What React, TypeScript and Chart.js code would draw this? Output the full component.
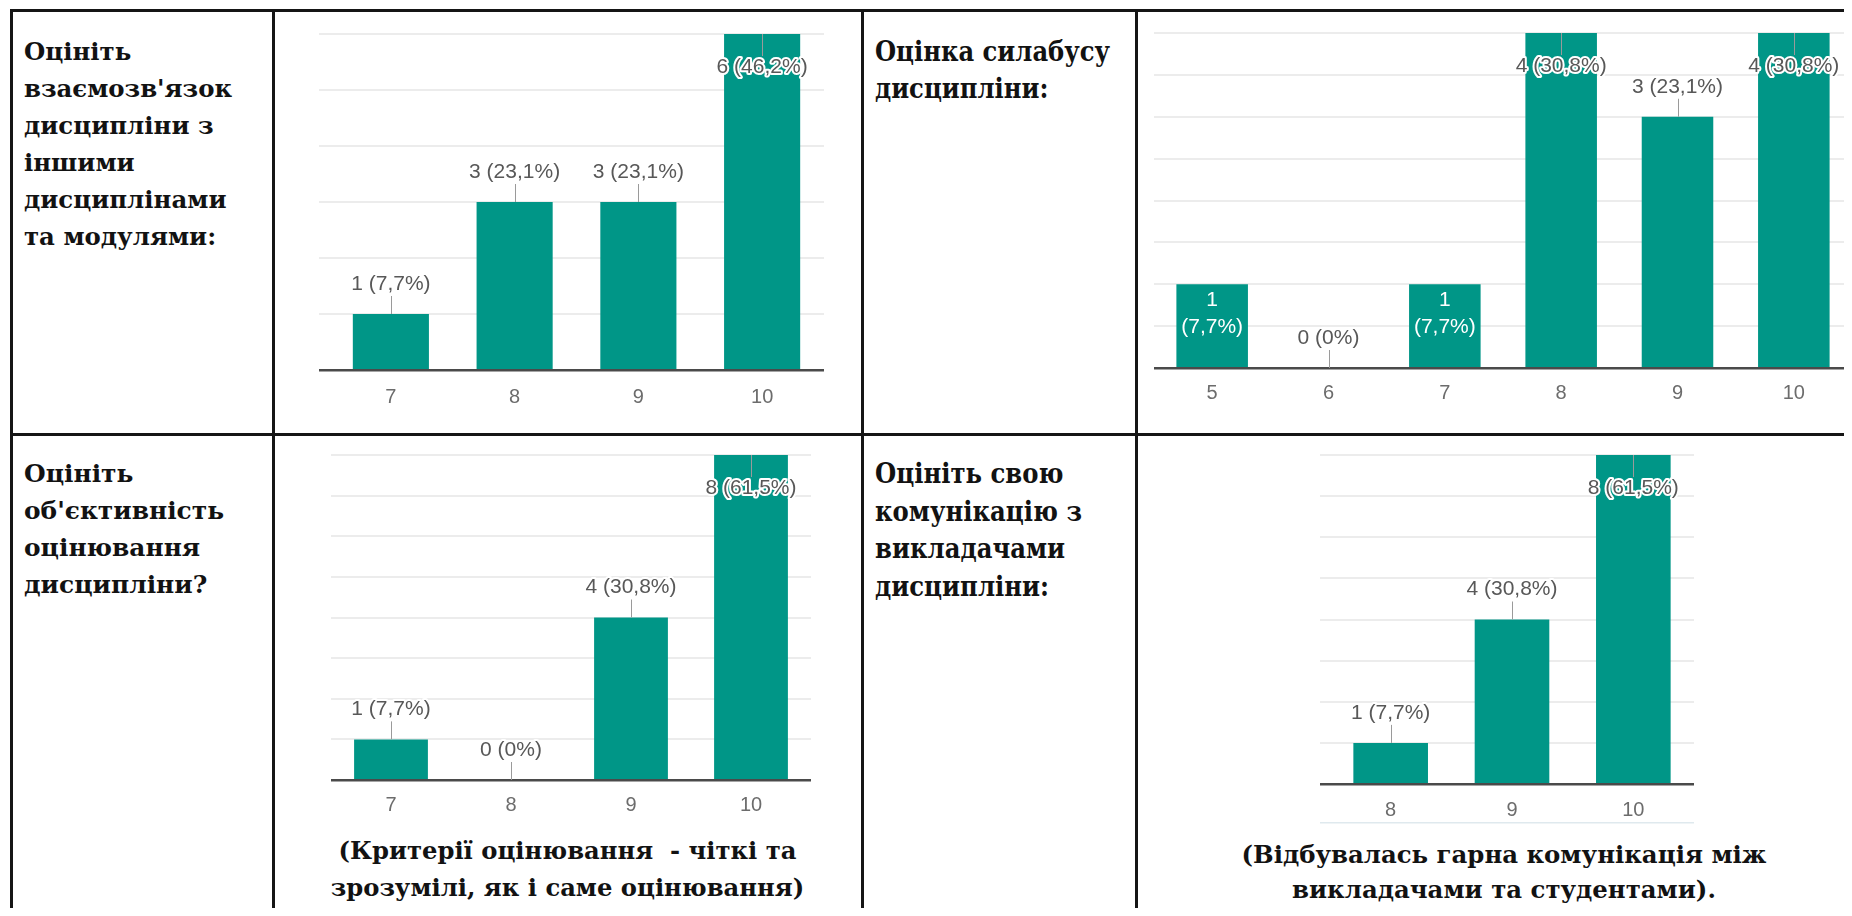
import React, { useEffect, useRef } from "react";
import { Chart, registerables } from "chart.js";

Chart.register(...registerables);

// ---------- data ----------
const RESPONDENTS = 13;

const LINKS_LABELS = ["7", "8", "9", "10"];
const LINKS_VALUES = [1, 3, 3, 6];
const LINKS_Y_MAX = 6;
const LINKS_Y_STEP = 1;

const SYLLABUS_LABELS = ["5", "6", "7", "8", "9", "10"];
const SYLLABUS_VALUES = [1, 0, 1, 4, 3, 4];
const SYLLABUS_Y_MAX = 4;
const SYLLABUS_Y_STEP = 0.5;

const OBJECTIVITY_LABELS = ["7", "8", "9", "10"];
const OBJECTIVITY_VALUES = [1, 0, 4, 8];
const OBJECTIVITY_Y_MAX = 8;
const OBJECTIVITY_Y_STEP = 1;

const COMMUNICATION_LABELS = ["8", "9", "10"];
const COMMUNICATION_VALUES = [1, 4, 8];
const COMMUNICATION_Y_MAX = 8;
const COMMUNICATION_Y_STEP = 1;

const Q_LINKS = ["Оцініть", "взаємозв'язок", "дисципліни з", "іншими", "дисциплінами", "та модулями:"];
const Q_SYLLABUS = ["Оцінка силабусу", "дисципліни:"];
const Q_OBJECTIVITY = ["Оцініть", "об'єктивність", "оцінювання", "дисципліни?"];
const Q_COMMUNICATION = ["Оцініть свою", "комунікацію з", "викладачами", "дисципліни:"];
const NOTE_OBJECTIVITY = ["(Критерії оцінювання  - чіткі та", "зрозумілі, як і саме оцінювання)"];
const NOTE_COMMUNICATION = ["(Відбувалась гарна комунікація між", "викладачами та студентами)."];

// ---------- styles ----------
const TEAL = "#009687";
const LABEL_FONT = "21px 'Liberation Sans', Arial, sans-serif";
const SERIF = "'DejaVu Serif', serif";
const SERIF_COND = "'DejaVu Serif Condensed', 'DejaVu Serif', serif";

type Spec = {
  left: number;
  top: number;
  width: number;
  height: number;
  padding: { left: number; right: number; top: number; bottom: number };
  axisHeight: number;
  tickPad: number;
  labels: string[];
  values: number[];
  yMax: number;
  yStep: number;
  wrapInside?: boolean;
  extendLeft?: number;
  footLine?: number;
};

function pctText(v: number, total: number) {
  if (v === 0) return "0%";
  return (Math.round((v / total) * 1000) / 10).toFixed(1).replace(".", ",") + "%";
}

const gridPlugin = {
  id: "formsGrid",
  beforeDatasetsDraw(chart: any, _a: any, opts: any) {
    const { ctx, chartArea } = chart;
    const y = chart.scales.y;
    const ext = opts.extendLeft || 0;
    ctx.save();
    ctx.fillStyle = "#ececec";
    y.ticks.forEach((t: any) => {
      if (t.value === 0) return;
      const py = Math.round(y.getPixelForValue(t.value));
      ctx.fillRect(chartArea.left - ext, py - 1, chartArea.right - chartArea.left + ext, 2);
    });
    ctx.restore();
  },
};

const labelPlugin = {
  id: "formsLabels",
  afterDatasetsDraw(chart: any, _a: any, opts: any) {
    const { ctx, chartArea } = chart;
    const ext = opts.extendLeft || 0;
    const values: number[] = chart.data.datasets[0].data;
    const total: number = opts.total;
    ctx.save();
    ctx.fillStyle = "#4a4a4a";
    ctx.fillRect(chartArea.left - ext, chartArea.bottom - 1, chartArea.right - chartArea.left + ext, 2.5);
    if (opts.footLine) {
      ctx.fillStyle = "#dfe9ee";
      ctx.fillRect(chartArea.left - ext, chartArea.bottom + opts.footLine, chartArea.right - chartArea.left + ext, 1.5);
    }
    ctx.font = LABEL_FONT;
    ctx.textAlign = "center";
    ctx.textBaseline = "middle";
    ctx.lineJoin = "round";
    const meta = chart.getDatasetMeta(0);
    meta.data.forEach((bar: any, i: number) => {
      const v = values[i];
      const p = bar.getProps(["x", "y", "base", "width"], true);
      const pct = pctText(v, total);
      const text = `${v} (${pct})`;
      const w = ctx.measureText(text).width;
      const h = p.base - p.y;
      if (opts.wrapInside && v > 0 && w > p.width && h >= 60 && h < 150) {
        ctx.fillStyle = "#ffffff";
        ctx.fillText(String(v), p.x, p.y + 16);
        ctx.fillText(`(${pct})`, p.x, p.y + 43);
        return;
      }
      let cy = p.y - 30;
      ctx.strokeStyle = "#9a9a9a";
      ctx.lineWidth = 1;
      if (cy - 11 < chartArea.top - 10) {
        cy = p.y + 33;
        ctx.beginPath();
        ctx.moveTo(Math.round(p.x) + 0.5, p.y);
        ctx.lineTo(Math.round(p.x) + 0.5, cy - 11);
        ctx.stroke();
      } else {
        ctx.beginPath();
        ctx.moveTo(Math.round(p.x) + 0.5, cy + 12);
        ctx.lineTo(Math.round(p.x) + 0.5, p.y);
        ctx.stroke();
      }
      ctx.strokeStyle = "#ffffff";
      ctx.lineWidth = 4;
      ctx.strokeText(text, p.x, cy);
      ctx.fillStyle = "#585858";
      ctx.fillText(text, p.x, cy);
    });
    ctx.restore();
  },
};

function FormsBar({ spec }: { spec: Spec }) {
  const ref = useRef<HTMLCanvasElement>(null);
  useEffect(() => {
    const canvas = ref.current!;
    const chart = new Chart(canvas, {
      type: "bar",
      data: {
        labels: spec.labels,
        datasets: [
          {
            data: spec.values,
            backgroundColor: TEAL,
            borderWidth: 0,
            barPercentage: 0.615,
            categoryPercentage: 1,
          },
        ],
      },
      options: {
        responsive: false,
        animation: false,
        devicePixelRatio: 1,
        layout: { padding: spec.padding },
        events: [],
        plugins: {
          legend: { display: false },
          tooltip: { enabled: false },
          formsGrid: { extendLeft: spec.extendLeft || 0 },
          formsLabels: {
            total: RESPONDENTS,
            wrapInside: !!spec.wrapInside,
            extendLeft: spec.extendLeft || 0,
            footLine: spec.footLine || 0,
          },
        } as any,
        scales: {
          x: {
            grid: { display: false, drawTicks: false },
            border: { display: false },
            ticks: {
              color: "#6c6c6c",
              padding: spec.tickPad,
              font: { size: 20, family: "'Liberation Sans', Arial, sans-serif" },
              maxRotation: 0,
            },
            afterFit: (s: any) => {
              s.height = spec.axisHeight;
            },
          },
          y: {
            min: 0,
            max: spec.yMax,
            ticks: { display: false, stepSize: spec.yStep },
            grid: { display: false, drawTicks: false },
            border: { display: false },
            afterFit: (s: any) => {
              s.width = 0;
            },
          },
        },
      } as any,
      plugins: [gridPlugin, labelPlugin],
    });
    return () => chart.destroy();
  }, [spec]);
  return (
    <canvas
      ref={ref}
      width={spec.width}
      height={spec.height}
      style={{ position: "absolute", left: spec.left, top: spec.top, width: spec.width, height: spec.height }}
    />
  );
}

const SPECS: Spec[] = [
  {
    left: 280, top: 14, width: 580, height: 410,
    padding: { left: 49, right: 36, top: 20, bottom: 0 },
    axisHeight: 54, tickPad: 15,
    labels: LINKS_LABELS, values: LINKS_VALUES, yMax: LINKS_Y_MAX, yStep: LINKS_Y_STEP,
    extendLeft: 10,
  },
  {
    left: 1140, top: 14, width: 712, height: 410,
    padding: { left: 14, right: -10, top: 19, bottom: 0 },
    axisHeight: 56, tickPad: 13,
    labels: SYLLABUS_LABELS, values: SYLLABUS_VALUES, yMax: SYLLABUS_Y_MAX, yStep: SYLLABUS_Y_STEP,
    wrapInside: true,
  },
  {
    left: 280, top: 440, width: 580, height: 380,
    padding: { left: 51, right: 49, top: 15, bottom: 0 },
    axisHeight: 40, tickPad: 13,
    labels: OBJECTIVITY_LABELS, values: OBJECTIVITY_VALUES, yMax: OBJECTIVITY_Y_MAX, yStep: OBJECTIVITY_Y_STEP,
  },
  {
    left: 1150, top: 440, width: 600, height: 390,
    padding: { left: 180, right: 56, top: 15, bottom: 0 },
    axisHeight: 46, tickPad: 14,
    labels: COMMUNICATION_LABELS, values: COMMUNICATION_VALUES, yMax: COMMUNICATION_Y_MAX, yStep: COMMUNICATION_Y_STEP,
    extendLeft: 10, footLine: 38,
  },
];

const line = (left: number, top: number, width: number, height: number): React.CSSProperties => ({
  position: "absolute", left, top, width, height, background: "#151515",
});

let measureCtx: CanvasRenderingContext2D | null = null;
function measure(text: string, font: string) {
  if (!measureCtx) measureCtx = document.createElement("canvas").getContext("2d");
  measureCtx!.font = font;
  return measureCtx!.measureText(text).width;
}

type TB = {
  lines: string[];
  left: number;
  top: number;
  lh: number;
  size: number;
  family: string;
  fitLine: number;
  fitWidth: number;
  width?: number;
  center?: boolean;
};

function TextBlock({ lines, left, top, lh, size, family, fitLine, fitWidth, width, center }: TB) {
  const m = measure(lines[fitLine], `700 ${size}px ${family}`);
  const k = m > 0 ? fitWidth / m : 1;
  return (
    <div
      style={{
        position: "absolute", left, top, width, lineHeight: lh + "px", fontSize: size,
        fontFamily: family, fontWeight: 700, color: "#121212",
        whiteSpace: "pre", textAlign: center ? "center" : "left",
        transform: `scaleX(${k})`, transformOrigin: center ? "50% 0" : "0 0",
      }}
    >
      {lines.map((l: string, i: number) => (
        <div key={i}>{l}</div>
      ))}
    </div>
  );
}

export default function App() {
  return (
    <div style={{ position: "relative", width: 1836, height: 900, overflow: "hidden", margin: 0 }}>
      <div style={{ position: "absolute", left: -8, top: -8, width: 1852, height: 916 }}>
        <div style={line(10, 9, 1842, 3)} />
        <div style={line(10, 433, 1842, 3)} />
        <div style={line(10, 9, 3, 907)} />
        <div style={line(272, 9, 3, 907)} />
        <div style={line(861, 9, 3, 907)} />
        <div style={line(1135, 9, 3, 907)} />

        <TextBlock lines={Q_LINKS} left={24} top={33} lh={37} size={25} family={SERIF} fitLine={1} fitWidth={208} />
        <TextBlock lines={Q_SYLLABUS} left={875} top={33} lh={37} size={27} family={SERIF_COND} fitLine={0} fitWidth={235} />
        <TextBlock lines={Q_OBJECTIVITY} left={24} top={455} lh={37} size={25} family={SERIF} fitLine={1} fitWidth={200} />
        <TextBlock lines={Q_COMMUNICATION} left={875} top={455} lh={37.5} size={27} family={SERIF_COND} fitLine={1} fitWidth={207} />

        {SPECS.map((s, i) => (
          <FormsBar key={i} spec={s} />
        ))}

        <TextBlock lines={NOTE_OBJECTIVITY} left={273} width={589} top={832} lh={37} size={25} family={SERIF_COND} fitLine={0} fitWidth={458} center />
        <TextBlock lines={NOTE_COMMUNICATION} left={1204} width={600} top={837} lh={35} size={25} family={SERIF} fitLine={0} fitWidth={525} center />
      </div>
    </div>
  );
}
